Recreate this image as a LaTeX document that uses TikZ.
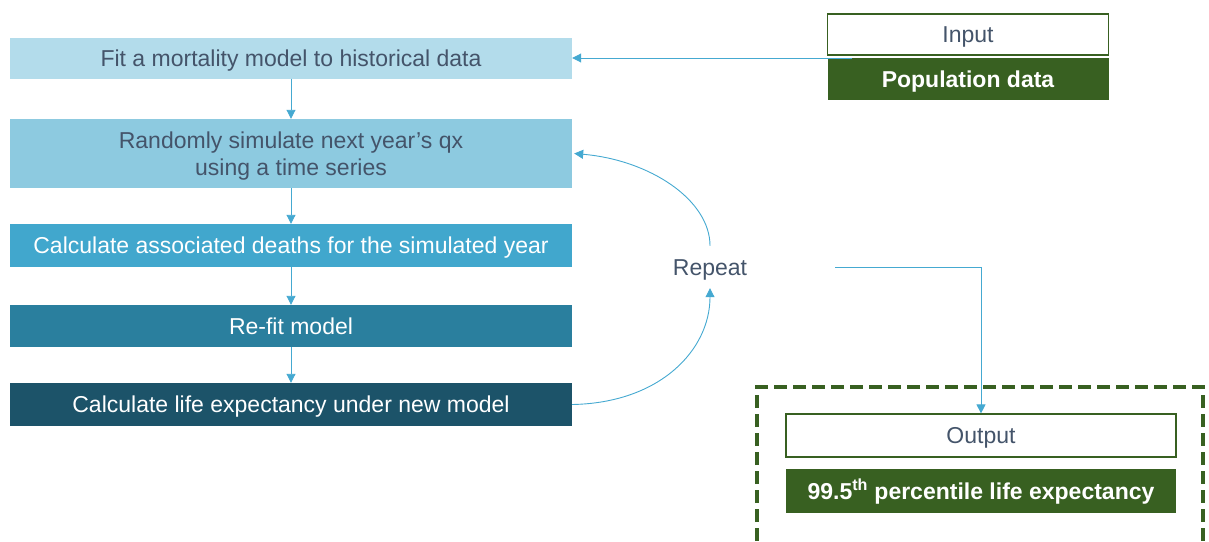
\documentclass[tikz,border=0pt]{standalone}
\usepackage{fontspec}
\setmainfont{Liberation Sans}
\usetikzlibrary{arrows.meta}
\definecolor{txtdark}{HTML}{44546A}
\definecolor{blueA}{HTML}{B3DCEB}
\definecolor{blueB}{HTML}{8DCAE0}
\definecolor{blueC}{HTML}{41A7CD}
\definecolor{blueD}{HTML}{2A7F9E}
\definecolor{blueE}{HTML}{1C5369}
\definecolor{arrowblue}{HTML}{45A9D1}
\definecolor{darkgreen}{HTML}{386021}
\tikzset{
  oneline/.style={text height=16.5pt, text depth=0pt},
  stepbox/.style={rectangle, inner sep=0pt, minimum width=562pt, align=center, font=\fontsize{23}{27.5}\selectfont},
  labelbox/.style={rectangle, oneline, draw=darkgreen, line width=1.2pt, fill=white, text=txtdark, inner sep=0pt, font=\fontsize{23}{26}\selectfont},
  greenbox/.style={rectangle, oneline, fill=darkgreen, text=white, inner sep=0pt, font=\bfseries\fontsize{23}{26}\selectfont},
  flow/.style={draw=arrowblue, line width=0.9pt, -{Triangle[length=9pt,width=9pt]}},
}
\begin{document}
\begin{tikzpicture}[x=1pt,y=-1pt]
\useasboundingbox (0,0) rectangle (1209,541);
% process steps
\node[stepbox, oneline, fill=blueA, text=txtdark, minimum height=41pt] (b1) at (291,58) {Fit a mortality model to historical data};
\node[stepbox, text depth=0pt, fill=blueB, text=txtdark, minimum height=69pt] (b2) at (291,153.5) {Randomly simulate next year’s qx\\using a time series};
\node[stepbox, oneline, fill=blueC, text=white, minimum height=43pt] (b3) at (291,245.5) {Calculate associated deaths for the simulated year};
\node[stepbox, oneline, fill=blueD, text=white, minimum height=42pt] (b4) at (291,326) {Re-fit model};
\node[stepbox, oneline, fill=blueE, text=white, minimum height=43pt] (b5) at (291,404.5) {Calculate life expectancy under new model};
% input
\node[labelbox, minimum width=281pt, minimum height=41pt] (in) at (968,34.5) {Input};
\node[greenbox, minimum width=281pt, minimum height=42pt] (pop) at (968,79) {Population data};
\coordinate (popin) at (852,58);
% loop label
\node[oneline, text=txtdark, font=\fontsize{23}{26}\selectfont, inner sep=0pt, minimum height=42pt] (rep) at (710,267) {Repeat};
\coordinate (repout) at (835,267);
% output area
\draw[darkgreen, line width=4pt, dash pattern=on 13pt off 6pt] (757,560) -- (757,387) -- (1203,387) -- (1203,560);
\node[labelbox, minimum width=390pt, minimum height=43pt] (out) at (981,435.5) {Output};
\node[greenbox, minimum width=390pt, minimum height=44pt] (pct) at (981,491) {99.5\textsuperscript{th} percentile life expectancy};
% connectors
\draw[flow] (b1) -- (b2);
\draw[flow] (b2) -- (b3);
\draw[flow] (b3) -- (b4);
\draw[flow] (b4) -- (b5);
\draw[flow] (popin) -- (b1.east);
\draw[flow] (b5.east) .. controls (660,403) and (710,350) .. (rep.south);
\draw[flow] (rep.north) .. controls (710,200) and (650,160) .. ([xshift=2pt]b2.east);
\draw[flow] (repout) -| (out.north);
\end{tikzpicture}
\end{document}
